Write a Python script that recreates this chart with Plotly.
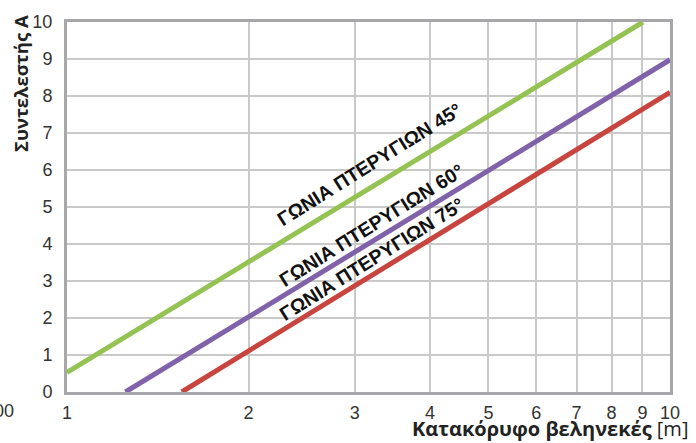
import math
import plotly.graph_objects as go

# Data
x_ticks = [1, 2, 3, 4, 5, 6, 7, 8, 9, 10]
x_tick_labels = ["1", "2", "3", "4", "5", "6", "7", "8", "9", "10"]
y_ticks = [0, 1, 2, 3, 4, 5, 6, 7, 8, 9, 10]
clipped_label = "00"

series_names = ["ΓΩΝΙΑ ΠΤΕΡΥΓΙΩΝ 45°", "ΓΩΝΙΑ ΠΤΕΡΥΓΙΩΝ 60°", "ΓΩΝΙΑ ΠΤΕΡΥΓΙΩΝ 75°"]
x_45 = [1.0, 9.02]
y_45 = [0.53, 10.0]
x_60 = [1.25, 10.0]
y_60 = [0.0, 8.98]
x_75 = [1.55, 10.0]
y_75 = [0.0, 8.1]

# label anchor positions (data coords)
label_x = [3.18, 3.2, 3.2]
label_y = [6.15, 4.51, 3.6]

colors = ["#94c353", "#7f62a9", "#c8453f"]

fig = go.Figure()
for xs, ys, c, n in zip([x_45, x_60, x_75], [y_45, y_60, y_75], colors, series_names):
    fig.add_trace(go.Scatter(x=xs, y=ys, mode="lines", name=n,
                             line=dict(color=c, width=5), showlegend=False))

for n, lx, ly in zip(series_names, label_x, label_y):
    fig.add_annotation(x=math.log10(lx), y=ly, xref="x", yref="y", text=n, showarrow=False,
                       textangle=-32, xanchor="center", yanchor="middle",
                       font=dict(family="Arial, Liberation Sans", size=19.5, color="#111111",
                                 weight="bold"))

fig.add_annotation(xref="paper", yref="paper", x=-0.0846, y=0, xanchor="right", yanchor="top",
                   yshift=-7, text=clipped_label, showarrow=False,
                   font=dict(family="Arial, Liberation Sans", size=18, color="#333333"))

fig.add_annotation(xref="paper", yref="paper", x=1.033, y=-0.1353, xanchor="right", yanchor="bottom",
                   yshift=-2, text="<b>Κατακόρυφο βεληνεκές</b> [m]", showarrow=False,
                   font=dict(family="Open Sans, Liberation Sans", size=20, color="#222222"))

fig.add_annotation(xref="paper", yref="paper", x=-0.078, y=0.835, xanchor="center", yanchor="middle",
                   text="<b>Συντελεστής Α</b>", textangle=-90, showarrow=False,
                   font=dict(family="Open Sans, Liberation Sans", size=18.5, color="#222222"))

fig.update_xaxes(type="log", range=[0, 1], tickvals=x_ticks, ticktext=x_tick_labels,
                 showgrid=True, gridcolor="#c9c9c9", gridwidth=1.5,
                 showline=True, linecolor="#a7a7aa", linewidth=3, mirror=True,
                 ticks="", ticklabelstandoff=2,
                 tickfont=dict(family="Arial, Liberation Sans", size=18, color="#333333"),
                 zeroline=False)
fig.update_yaxes(range=[0, 10], tickvals=y_ticks,
                 showgrid=True, gridcolor="#c9c9c9", gridwidth=1.5,
                 showline=True, linecolor="#a7a7aa", linewidth=3, mirror=True,
                 ticks="", ticklabelstandoff=8,
                 tickfont=dict(family="Arial, Liberation Sans", size=18, color="#333333"),
                 zeroline=False)

fig.update_layout(width=696, height=443, margin=dict(l=67, r=26, t=15, b=51),
                  plot_bgcolor="white", paper_bgcolor="white")

fig.write_html("out.html", config={"displayModeBar": False},
               post_script="document.body.style.margin='0';")
